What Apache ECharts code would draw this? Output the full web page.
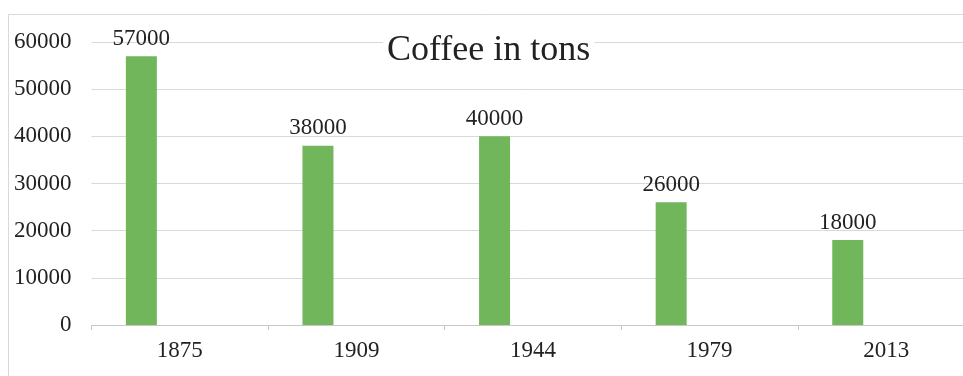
<!DOCTYPE html>
<html>
<head>
<meta charset="utf-8">
<script src="https://cdn.jsdelivr.net/npm/echarts@6/dist/echarts.min.js"></script>
<style>
  html, body { margin: 0; padding: 0; background: #ffffff; }
  #chart { width: 963px; height: 376px; }
</style>
</head>
<body>
<div id="chart"></div>
<script>
// Coffee output by year, in tons
const years = ['1875', '1909', '1944', '1979', '2013'];
const coffeeTons = [57000, 38000, 40000, 26000, 18000];
// placeholder second series keeps each bar on the left of its slot
const emptySeries = [null, null, null, null, null];

const serif = '"Liberation Serif", "DejaVu Serif", serif';
const textColor = '#222222';

const chart = echarts.init(document.getElementById('chart'));
chart.setOption({
  backgroundColor: '#ffffff',
  animation: false,
  title: {
    text: 'Coffee in tons',
    left: 383,
    top: 31,
    padding: [2, 4],
    backgroundColor: '#ffffff',
    textStyle: { fontFamily: serif, fontSize: 36, fontWeight: 'normal', color: textColor }
  },
  graphic: [{
    type: 'rect',
    z: -1,
    shape: { x: 8.5, y: 14.5, width: 1000, height: 400 },
    style: { fill: 'none', stroke: '#d9d9d9', lineWidth: 1 }
  }],
  // the plot runs on past the right edge of the canvas
  grid: { left: 91.5, top: 42, bottom: 51, width: 883, outerBoundsMode: 'none', containLabel: false },
  xAxis: {
    type: 'category',
    data: years,
    axisLine: { lineStyle: { color: '#c8c8c8', width: 1 } },
    axisTick: { show: true, length: 5, lineStyle: { color: '#c8c8c8' } },
    axisLabel: { fontFamily: serif, fontSize: 23, color: textColor, margin: 14 }
  },
  yAxis: {
    type: 'value',
    min: 0,
    max: 60000,
    interval: 10000,
    axisLine: { show: false },
    axisTick: { show: false },
    splitLine: { lineStyle: { color: '#d9d9d9', width: 1 } },
    axisLabel: {
      fontFamily: serif, fontSize: 23, color: textColor, margin: 20,
      formatter: v => String(v)
    }
  },
  series: [
    {
      name: 'Coffee',
      type: 'bar',
      data: coffeeTons,
      barWidth: 31,
      barGap: '148%',
      itemStyle: { color: '#72b65c' },
      label: {
        show: true,
        position: 'top',
        distance: 6,
        fontFamily: serif,
        fontSize: 23,
        color: textColor
      }
    },
    {
      name: 'Blank',
      type: 'bar',
      data: emptySeries,
      barWidth: 31,
      itemStyle: { color: '#72b65c' }
    }
  ]
});
</script>
</body>
</html>
